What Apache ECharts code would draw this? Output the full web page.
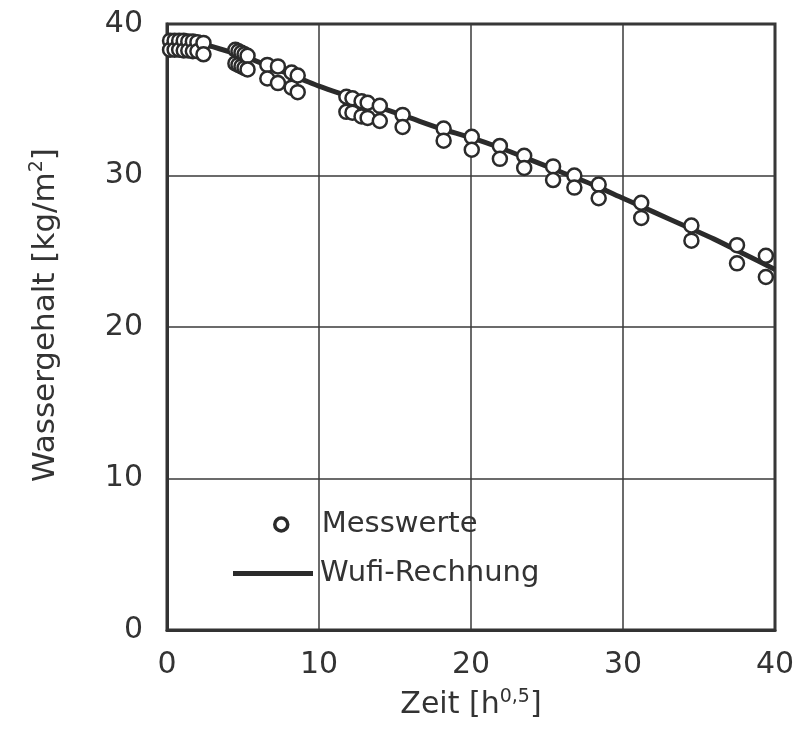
<!DOCTYPE html>
<html><head><meta charset="utf-8">
<script src="https://cdn.jsdelivr.net/npm/echarts@6/dist/echarts.min.js"></script>
<style>html,body{margin:0;padding:0;background:#fff}#c{width:800px;height:731px}</style>
</head><body><div id="c"></div>
<script>
// Measured values (two specimens per time step: upper / lower)
const messX     = [0.2, 0.5, 0.8, 1.1, 1.4, 1.7, 2.0, 2.4, 4.5, 4.7, 4.9, 5.1, 5.3, 6.6, 7.3, 8.2, 8.6, 11.8, 12.2, 12.8, 13.2, 14.0, 15.5, 18.2, 20.05, 21.9, 23.5, 25.4, 26.8, 28.4, 31.2, 34.5, 37.5, 39.4];
const messYUpper = [38.9, 38.9, 38.9, 38.9, 38.85, 38.85, 38.8, 38.75, 38.3, 38.2, 38.1, 38.0, 37.9, 37.3, 37.2, 36.8, 36.6, 35.2, 35.1, 34.9, 34.8, 34.6, 34.0, 33.1, 32.55, 31.95, 31.3, 30.6, 30.0, 29.4, 28.2, 26.7, 25.4, 24.7];
const messYLower = [38.3, 38.3, 38.3, 38.25, 38.25, 38.2, 38.2, 38.0, 37.4, 37.3, 37.2, 37.1, 37.0, 36.4, 36.1, 35.8, 35.5, 34.2, 34.15, 33.9, 33.8, 33.6, 33.2, 32.3, 31.7, 31.1, 30.5, 29.7, 29.2, 28.5, 27.2, 25.7, 24.2, 23.3];
// Simulation (Wufi-Rechnung)
const wufiX = [0, 1, 2, 3, 4, 5, 6, 7, 8, 9, 10, 12, 14, 16, 18, 20, 22, 24, 26, 28, 30, 32, 34, 36, 38, 40];
const wufiY = [39.2, 39.0, 38.8, 38.5, 38.2, 37.9, 37.5, 37.1, 36.7, 36.3, 35.9, 35.2, 34.5, 33.8, 33.1, 32.5, 31.8, 31.0, 30.2, 29.4, 28.5, 27.6, 26.7, 25.8, 24.8, 23.8];
const xTicks = [0, 10, 20, 30, 40];
const yTicks = [0, 10, 20, 30, 40];

const messData = [];
messX.forEach((x, i) => { messData.push([x, messYUpper[i]]); messData.push([x, messYLower[i]]); });
const wufiData = wufiX.map((x, i) => [x, wufiY[i]]);

const FONT = 'DejaVu Sans, Arial, sans-serif';
const TXT = '#333333';
const supStyle = {fontSize: 19, fontFamily: FONT, color: TXT, verticalAlign: 'top', padding: [0, 0, 16, 0]};
const chart = echarts.init(document.getElementById('c'), null, {renderer: 'canvas'});
chart.setOption({
  animation: false,
  backgroundColor: '#ffffff',
  grid: {left: 167, right: 25, top: 24, bottom: 101, show: true, borderColor: '#333333', borderWidth: 3, backgroundColor: 'transparent'},
  xAxis: {
    type: 'value', min: xTicks[0], max: xTicks[xTicks.length - 1], interval: 10,
    axisLine: {show: true, lineStyle: {color: '#333333', width: 3}},
    axisTick: {show: false},
    splitLine: {show: true, lineStyle: {color: '#3a3a3a', width: 1.5}},
    axisLabel: {color: TXT, fontFamily: FONT, fontSize: 30, margin: 20},
    name: 'Zeit [h{sup|0,5}]', nameLocation: 'middle', nameGap: 58,
    nameTextStyle: {color: TXT, fontFamily: FONT, fontSize: 30, rich: {sup: supStyle}}
  },
  yAxis: {
    type: 'value', min: yTicks[0], max: yTicks[yTicks.length - 1], interval: 10,
    axisLine: {show: true, lineStyle: {color: '#333333', width: 3}},
    axisTick: {show: false},
    splitLine: {show: true, lineStyle: {color: '#3a3a3a', width: 1.5}},
    axisLabel: {color: TXT, fontFamily: FONT, fontSize: 30, margin: 24},
    name: 'Wassergehalt [kg/m{sup|2}]', nameLocation: 'middle', nameGap: 104, nameRotate: 90,
    nameTextStyle: {color: TXT, fontFamily: FONT, fontSize: 31, padding: [0, 0, 0, 24], rich: {sup: supStyle}}
  },
  legend: [
    {data: [{name: 'Messwerte', itemStyle: {borderWidth: 3.5, borderColor: '#2b2b2b', color: '#ffffff'}}],
     left: 273, top: 510, padding: 0, orient: 'vertical', itemWidth: 13, itemHeight: 13,
     textStyle: {color: TXT, fontFamily: FONT, fontSize: 29, padding: [0, 0, 0, 29]}},
    {data: [{name: 'Wufi-Rechnung', icon: 'rect'}], left: 233, top: 559, padding: 0, orient: 'vertical', itemWidth: 80, itemHeight: 5,
     textStyle: {color: TXT, fontFamily: FONT, fontSize: 29, padding: [0, 0, 0, 2]}}
  ],
  series: [
    {name: 'Wufi-Rechnung', type: 'line', data: wufiData, showSymbol: false, smooth: 0.3, z: 2,
     lineStyle: {color: '#2b2b2b', width: 5}, itemStyle: {color: '#2b2b2b'}},
    {name: 'Messwerte', type: 'scatter', data: messData, symbol: 'circle', symbolSize: 14, z: 3,
     itemStyle: {color: '#ffffff', borderColor: '#2b2b2b', borderWidth: 2.5, opacity: 1}}
  ]
});
</script></body></html>
